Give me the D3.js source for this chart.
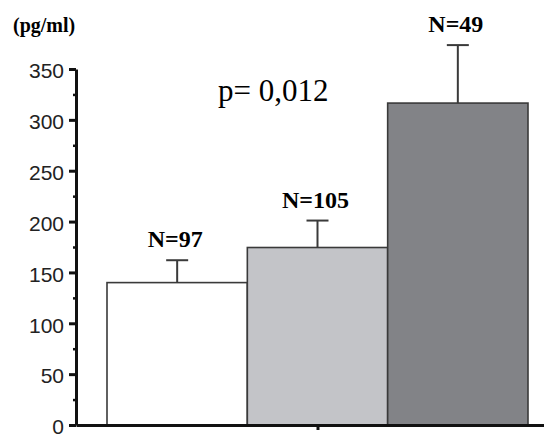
<!DOCTYPE html>
<html>
<head>
<meta charset="utf-8">
<script src="https://cdn.jsdelivr.net/npm/d3@7"></script>
<style>
  body { margin: 0; background: #fff; }
  svg { display: block; }
  .axis text { font-family: "Liberation Sans", Arial, sans-serif; font-size: 21px; fill: #222; }
  .axis .domain { stroke: #111; stroke-width: 3px; }
  .axis .tick line { stroke: #111; stroke-width: 3px; }
  .minor .tick line { stroke-width: 2.5px; }
  .nlabel { font-family: "Liberation Serif", "Times New Roman", serif; font-weight: bold; font-size: 24px; text-anchor: middle; }
</style>
</head>
<body>
<div id="chart"></div>
<script>
// values (pg/ml)
const groups = ['g1', 'g2', 'g3'];
const means = [140, 174.5, 316.5];
const errTops = [162, 201, 373.5];
const nLabels = ['N=97', 'N=105', 'N=49'];
const colors = ['#ffffff', '#c3c4c8', '#828387'];
const yTicks = [0, 50, 100, 150, 200, 250, 300, 350];
const yMinorTicks = [25, 75, 125, 175, 225, 275, 325];

const width = 544, height = 436;

const svg = d3.select('#chart')
  .append('svg')
  .attr('width', width)
  .attr('height', height);

const y = d3.scaleLinear()
  .domain([0, 350])
  .range([425, 69]);

// one group on the x axis, tick in the middle
const outer = d3.scaleBand()
  .domain(['all'])
  .range([76, 560]);

const x = d3.scaleBand()
  .domain(groups)
  .range([107, 528])
  .padding(0);

// bars
svg.selectAll('.bar')
  .data(groups)
  .enter()
  .append('rect')
  .classed('bar', true)
  .attr('x', d => x(d))
  .attr('y', (d, i) => y(means[i]))
  .attr('width', x.bandwidth())
  .attr('height', (d, i) => y(0) - y(means[i]))
  .style('fill', (d, i) => colors[i])
  .style('stroke', '#3a3a3a')
  .style('stroke-width', 1.6);

// error bars
const cap = 11;
const err = svg.selectAll('.err')
  .data(groups)
  .enter()
  .append('g')
  .classed('err', true)
  .style('stroke', '#3a3a3a')
  .style('stroke-width', 2);

err.append('line')
  .attr('x1', d => x(d) + x.bandwidth() / 2)
  .attr('x2', d => x(d) + x.bandwidth() / 2)
  .attr('y1', (d, i) => y(means[i]))
  .attr('y2', (d, i) => y(errTops[i]));

err.append('line')
  .attr('x1', d => x(d) + x.bandwidth() / 2 - cap)
  .attr('x2', d => x(d) + x.bandwidth() / 2 + cap)
  .attr('y1', (d, i) => y(errTops[i]))
  .attr('y2', (d, i) => y(errTops[i]));

// N labels
svg.selectAll('.nlabel')
  .data(groups)
  .enter()
  .append('text')
  .classed('nlabel', true)
  .attr('x', d => x(d) + x.bandwidth() / 2 - 2)
  .attr('y', (d, i) => y(errTops[i]) - 13)
  .text((d, i) => nLabels[i]);

// axes
svg.append('g')
  .attr('class', 'axis minor')
  .attr('transform', 'translate(76,0)')
  .call(d3.axisLeft(y).tickValues(yMinorTicks).tickSize(3).tickSizeOuter(0).tickFormat(''))
  .select('.domain').remove();

svg.append('g')
  .attr('class', 'axis')
  .attr('transform', 'translate(76,0)')
  .call(d3.axisLeft(y).tickValues(yTicks).tickSize(7).tickSizeOuter(0).tickPadding(5))
  .selectAll('text')
  .attr('dy', '0.42em');

svg.append('g')
  .attr('class', 'axis')
  .attr('transform', 'translate(0,425)')
  .call(d3.axisBottom(outer).tickSize(5).tickSizeOuter(0).tickFormat(''));

// unit label
svg.append('text')
  .attr('x', 13)
  .attr('y', 32)
  .style('font-family', '"Liberation Serif", "Times New Roman", serif')
  .style('font-weight', 'bold')
  .style('font-size', '20px')
  .text('(pg/ml)');

// p value
svg.append('text')
  .attr('x', 218)
  .attr('y', 101)
  .style('font-family', '"Liberation Serif", "Times New Roman", serif')
  .style('font-size', '31px')
  .text('p= 0,012');
</script>
</body>
</html>
